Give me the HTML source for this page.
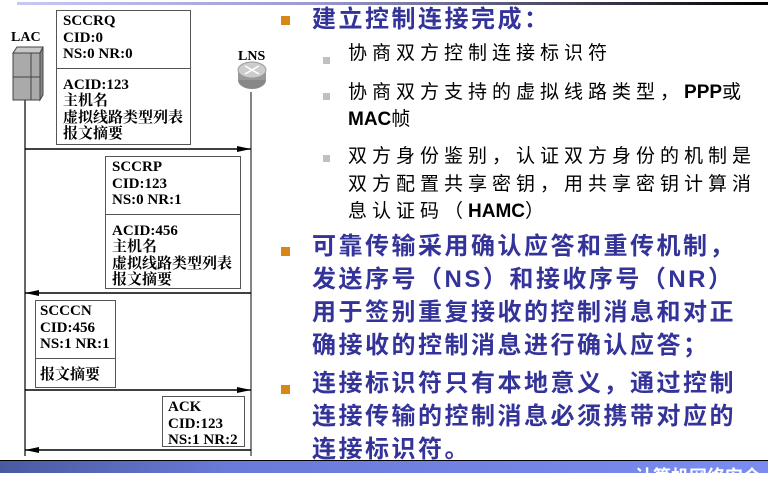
<!DOCTYPE html>
<html><head><meta charset="utf-8"><style>
body{margin:0;width:768px;height:473px;overflow:hidden;background:#fff;position:relative;font-family:"Liberation Serif","Noto Serif CJK SC",serif}
.a{position:absolute}
.box{position:absolute;border:1.5px solid #555;background:#fff;font-weight:bold;font-size:15px;line-height:16.5px;color:#000;box-sizing:border-box;overflow:hidden}
.box .d{border-top:1.5px solid #555;margin:5px 0 8px -6px;}
.box .in{padding:2px 0 0 6px}
.t{position:absolute;font-family:"Liberation Sans","Noto Sans CJK SC",sans-serif;white-space:nowrap}
.m{font-size:24px;font-weight:bold;color:#333399;letter-spacing:2.5px;line-height:33px}
.s{font-size:19px;color:#000;letter-spacing:5px;line-height:27px}
.s b{letter-spacing:0;font-family:"Liberation Sans",sans-serif}
.ob{position:absolute;width:9px;height:9px;background:#d98618}
.gb{position:absolute;width:7px;height:7px;background:#c0c0c0}
</style></head><body>
<div class="a" style="left:17px;top:2px;width:751px;height:3px;background:linear-gradient(90deg,#c8c8f4,#9a9ad0 40%,#000)"></div>
<svg class="a" style="left:0;top:0" width="280" height="473">
<defs><marker id="ar" markerWidth="14" markerHeight="6" refX="14" refY="3" orient="auto" markerUnits="userSpaceOnUse"><path d="M0,0 L14,3 L0,6z" fill="#000"/></marker></defs>
<line x1="25" y1="100" x2="25" y2="456" stroke="#000" stroke-width="1.2"/>
<line x1="251" y1="92" x2="251" y2="456" stroke="#333" stroke-width="1.2"/>
<line x1="25" y1="149" x2="251" y2="149" stroke="#000" stroke-width="1.5" marker-end="url(#ar)"/>
<line x1="251" y1="293" x2="25" y2="293" stroke="#000" stroke-width="1.5" marker-end="url(#ar)"/>
<line x1="25" y1="390" x2="251" y2="390" stroke="#000" stroke-width="1.5" marker-end="url(#ar)"/>
<line x1="251" y1="450" x2="25" y2="450" stroke="#000" stroke-width="1.5" marker-end="url(#ar)"/>
<path d="M13,53 L17,47 L43,47 L40,53z" fill="#c8c8c8" stroke="#444"/>
<path d="M40,53 L43,47 L43,95 L40,100z" fill="#888" stroke="#444"/>
<rect x="13" y="53" width="27" height="47" fill="#aaa" stroke="#444"/>
<line x1="31" y1="53" x2="31" y2="100" stroke="#444"/><line x1="13" y1="77" x2="40" y2="77" stroke="#444"/>
<ellipse cx="252" cy="80" rx="14" ry="9" fill="#888"/>
<rect x="238" y="70" width="28" height="10" fill="#999"/>
<ellipse cx="252" cy="70" rx="14" ry="8" fill="#ccc" stroke="#999"/>
<path d="M245,66 L259,74 M259,66 L245,74" stroke="#fff" stroke-width="1.5"/>
<text x="11" y="41" font-family="Liberation Serif" font-weight="bold" font-size="14">LAC</text>
<text x="238" y="60" font-family="Liberation Serif" font-weight="bold" font-size="14">LNS</text>
</svg>
<div class="box" style="left:56px;top:10px;width:135px;height:135px"><div class="in">SCCRQ<br>CID:0<br>NS:0 NR:0<div class="d"></div>ACID:123<br>主机名<br>虚拟线路类型列表<br>报文摘要</div></div>
<div class="box" style="left:105px;top:156px;width:136px;height:133px"><div class="in">SCCRP<br>CID:123<br>NS:0 NR:1<div class="d"></div>ACID:456<br>主机名<br>虚拟线路类型列表<br>报文摘要</div></div>
<div class="box" style="left:35px;top:300px;width:81px;height:88px"><div class="in" style="padding-left:4px">SCCCN<br>CID:456<br>NS:1 NR:1<div class="d" style="margin-left:-4px"></div>报文摘要</div></div>
<div class="box" style="left:162px;top:396px;width:83px;height:51px"><div class="in" style="padding-left:5px">ACK<br>CID:123<br>NS:1 NR:2</div></div>

<div class="ob" style="left:281px;top:16px"></div>
<div class="t m" style="left:312px;top:3px">建立控制连接完成：</div>
<div class="gb" style="left:323px;top:57px"></div>
<div class="t s" style="left:348px;top:40px">协商双方控制连接标识符</div>
<div class="gb" style="left:323px;top:93px"></div>
<div class="t s" style="left:348px;top:79px">协商双方支持的虚拟线路类型，<b>PPP</b>或</div>
<div class="t s" style="left:348px;top:106px"><b>MAC</b>帧</div>
<div class="gb" style="left:323px;top:155px"></div>
<div class="t s" style="left:348px;top:143px">双方身份鉴别，认证双方身份的机制是</div>
<div class="t s" style="left:348px;top:171px">双方配置共享密钥，用共享密钥计算消</div>
<div class="t s" style="left:348px;top:198px">息认证码（<b>HAMC</b>）</div>
<div class="ob" style="left:281px;top:247px"></div>
<div class="t m" style="left:312px;top:230px">可靠传输采用确认应答和重传机制，<br>发送序号（NS）和接收序号（NR）<br>用于签别重复接收的控制消息和对正<br>确接收的控制消息进行确认应答；</div>
<div class="ob" style="left:281px;top:385px"></div>
<div class="t m" style="left:312px;top:367px">连接标识符只有本地意义，通过控制<br>连接传输的控制消息必须携带对应的<br>连接标识符。</div>
<div class="a" style="left:0;top:460px;width:768px;height:1.5px;background:#000"></div>
<div class="a" style="left:0;top:461px;width:768px;height:12px;background:linear-gradient(90deg,#4a5aa0,#6a7ad8 30%,#7a8cf0)"></div>
<div class="t" style="left:635px;top:463px;color:#fff;font-size:18px;font-weight:bold">计算机网络安全</div>
</body></html>
